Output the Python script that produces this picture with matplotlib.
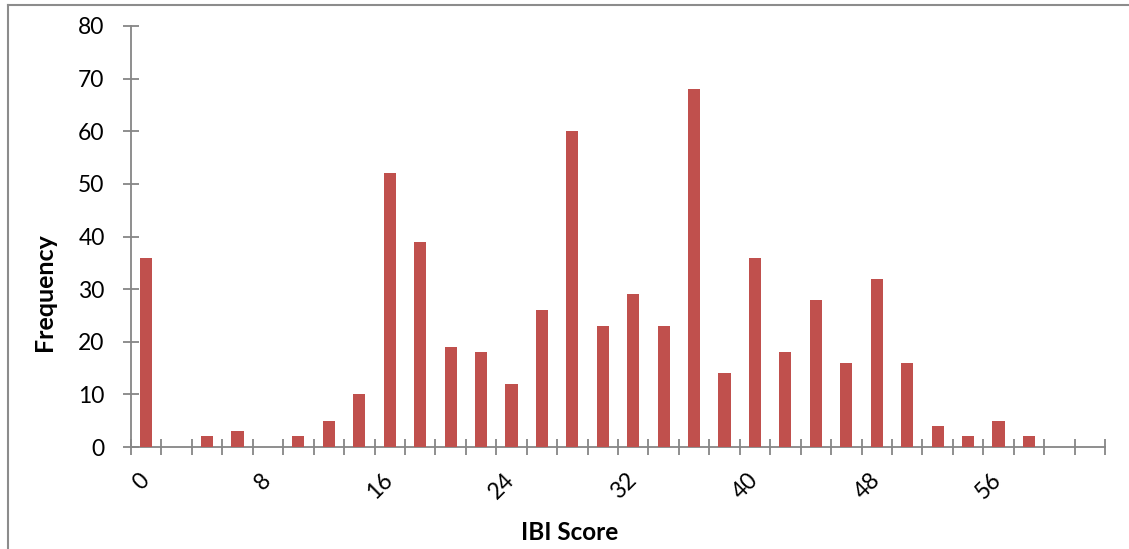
import matplotlib
matplotlib.use('Agg')
import matplotlib.pyplot as plt
from matplotlib.lines import Line2D
import numpy as np

plt.rcParams['font.family'] = ['Lato', 'DejaVu Sans']

# IBI score bins (step 2) and how many sites fell in each
scores = list(range(0, 64, 2))
freq = [36, 0, 2, 3, 0, 2, 5, 10, 52, 39, 19, 18, 12, 26, 60, 23,
        29, 23, 68, 14, 36, 18, 28, 16, 32, 16, 4, 2, 5, 2, 0, 0]
label_every = 4

BAR = '#C0504D'
AXIS = '#868686'

fig = plt.figure(figsize=(11.29, 5.49), dpi=100)
ax = fig.add_axes([131 / 1129, 1 - 447 / 549, 974 / 1129, 421 / 549])

x = np.arange(len(scores))
ax.bar(x, freq, width=0.4, color=BAR, zorder=3)

ax.set_xlim(-0.5, len(scores) - 0.5)
ax.set_ylim(0, 80)

for s in ('top', 'right'):
    ax.spines[s].set_visible(False)
for s in ('left', 'bottom'):
    ax.spines[s].set_color(AXIS)
    ax.spines[s].set_linewidth(1.3)

# tick marks sit between categories, labels every 4th category
ax.set_xticks(np.arange(len(scores) + 1) - 0.5)
ax.set_xticklabels([])
ax.set_xticks(x[::label_every], minor=True)
ax.set_xticklabels([str(s) for s in scores[::label_every]], minor=True,
                   rotation=45, ha='right', va='center', rotation_mode='anchor')
ax.tick_params(axis='x', which='major', direction='inout', length=11.5,
               width=1.3, color=AXIS)
ax.tick_params(axis='x', which='minor', length=0, pad=21.5, labelsize=16.5)

ax.set_yticks(range(0, 81, 10))
ax.tick_params(axis='y', direction='inout', length=12, width=1.3, color=AXIS,
               pad=13, labelsize=16.5)

ax.set_ylabel('Frequency', fontsize=18, fontweight='bold', va='center')
ax.yaxis.set_label_coords(-0.089, 0.368)
ax.set_xlabel('IBI Score', fontsize=17.5, fontweight='bold', va='center')
ax.xaxis.set_label_coords(0.45, -0.204)

# chart area frame
fig.add_artist(Line2D([8 / 1129, 8 / 1129], [0, 1 - 5 / 549],
                      transform=fig.transFigure, color='#8C8C8C', lw=1.5))
fig.add_artist(Line2D([8 / 1129, 1], [1 - 5 / 549, 1 - 5 / 549],
                      transform=fig.transFigure, color='#8C8C8C', lw=1.5))

fig.savefig('out.png', dpi=100)
